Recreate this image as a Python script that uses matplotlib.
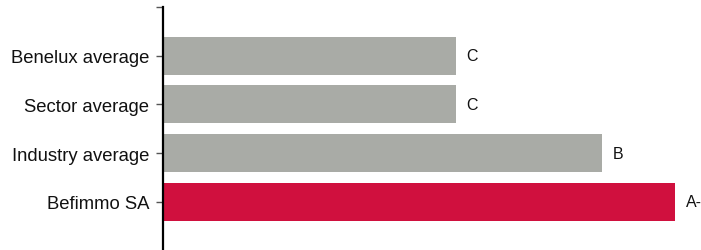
import matplotlib
matplotlib.use("Agg")
import matplotlib.pyplot as plt

categories = ["Befimmo SA", "Industry average", "Sector average", "Benelux average"]
scores = [3.5, 3.0, 2.0, 2.0]
grades = ["A-", "B", "C", "C"]
colors = ["#D0103E", "#A9ABA6", "#A9ABA6", "#A9ABA6"]

plt.rcParams['font.family'] = ['Liberation Sans', 'DejaVu Sans']

fig = plt.figure(figsize=(7.01, 2.51), dpi=100)
ax = fig.add_axes([163/701, 0.0, 1 - 163/701, 1 - 8/251])

ypos = list(range(len(categories)))
ax.barh(ypos, scores, height=0.78, color=colors)
for y, s, g in zip(ypos, scores, grades):
    ax.text(s + 0.075, y, g, va='center', ha='left', fontsize=11.5, color='#111111')

ax.set_xlim(0, (701 - 163) / 146.3)
ax.set_ylim(-0.99, 4.0)
ax.set_yticks(ypos + [4])
ax.set_yticklabels(categories + [""], fontsize=13.3, color='#111111')
ax.tick_params(axis='y', length=5, width=1, pad=5, color='#555555')
ax.set_xticks([])
for s in ['top', 'right', 'bottom']:
    ax.spines[s].set_visible(False)
ax.spines['left'].set_linewidth(1.6)

fig.savefig("out.png", dpi=100)
